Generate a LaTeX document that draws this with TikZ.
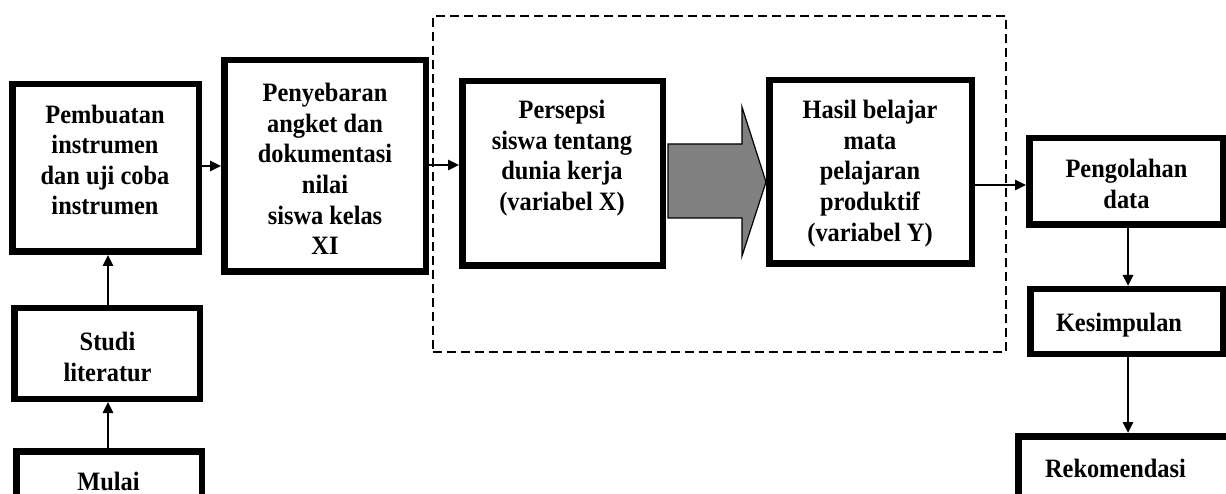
\documentclass[tikz,border=0pt]{standalone}
\usepackage{fontspec}
\setmainfont{Liberation Serif}[FakeStretch=0.92]
\usetikzlibrary{arrows.meta,calc}
\begin{document}
\begin{tikzpicture}[x=1pt,y=-1pt,
  box/.style={draw, line width=6.5pt, inner sep=0pt, outer sep=3.25pt},
  txt/.style={font=\fontsize{26.5}{30.6}\selectfont\bfseries, align=center, inner sep=0pt},
  conn/.style={line width=2.5pt, -{Triangle[length=11pt,width=10pt]}},
  group/.style={draw, line width=2.4pt, dash pattern=on 9pt off 5pt, inner sep=0pt},
  bigarrow/.style={fill=black!50, draw=black, line width=1.2pt, line join=miter}]
\clip (0,0) rectangle (1226,494);
\fill[white] (0,0) rectangle (1226,494);

% dashed frame around the two variables
\node[group, minimum width=573, minimum height=336] (grp) at (719.5,184) {};

% boxes
\node[box, minimum width=186.5, minimum height=167.5] (pemb) at (105.5,168) {};
\node[box, minimum width=201.5, minimum height=211.5] (peny) at (325,166) {};
\node[box, minimum width=185.5, minimum height=90.5]  (studi) at (107,353.5) {};
\node[box, minimum width=185.5, minimum height=85.5]  (mulai) at (109,494) {};
\node[box, minimum width=200.5, minimum height=184.5] (pers) at (562.5,173.5) {};
\node[box, minimum width=202.5, minimum height=183.5] (hasil) at (870.5,172) {};
\node[box, minimum width=193.5, minimum height=86.5]  (peng) at (1126,181.5) {};
\node[box, minimum width=192.5, minimum height=64.5]  (kes) at (1126.5,321.5) {};
\node[box, minimum width=218.5, minimum height=80.5]  (rek) at (1127.5,476.5) {};

% labels
\node[txt] (pembT)  at (105,160)   {Pembuatan\\instrumen\\dan uji coba\\instrumen};
\node[txt] (penyT)  at (325,169)   {Penyebaran\\angket dan\\dokumentasi\\nilai\\siswa kelas\\XI};
\node[txt] (studiT) at (107.5,357) {Studi\\literatur};
\node[txt] (mulaiT) at (108.5,481) {Mulai};
\node[txt] (persT)  at (562,158)   {Persepsi\\siswa tentang\\dunia kerja\\(variabel X)};
\node[txt] (hasilT) at (870,173.5) {Hasil belajar\\mata\\pelajaran\\produktif\\(variabel Y)};
\node[txt] (pengT)  at (1126.5,184) {Pengolahan\\data};
\node[txt] (kesT)   at (1119,325)  {Kesimpulan};
\node[txt] (rekT)   at (1115.5,468.7) {Rekomendasi};

% block arrow from X to Y
\draw[bigarrow] (668,144) -- (742,144) -- (742,107) -- (hasil.west |- 0,182)
  -- (742,256) -- (742,218) -- (668,218) -- cycle;

% connectors
\draw[conn] (mulai.north -| 108,0) -- (studi.south -| 108,0);
\draw[conn] (studi.north -| 108,0) -- (pemb.south -| 108,0);
\draw[conn] (pemb.east |- 0,166) -- (peny.west |- 0,166);
\draw[conn] (peny.east |- 0,165) -- (pers.west |- 0,165);
\draw[conn] (hasil.east |- 0,185) -- (peng.west |- 0,185);
\draw[conn] (peng.south -| 1128,0) -- (kes.north -| 1128,0);
\draw[conn] (kes.south -| 1128,0) -- (rek.north -| 1128,0);
\end{tikzpicture}
\end{document}
